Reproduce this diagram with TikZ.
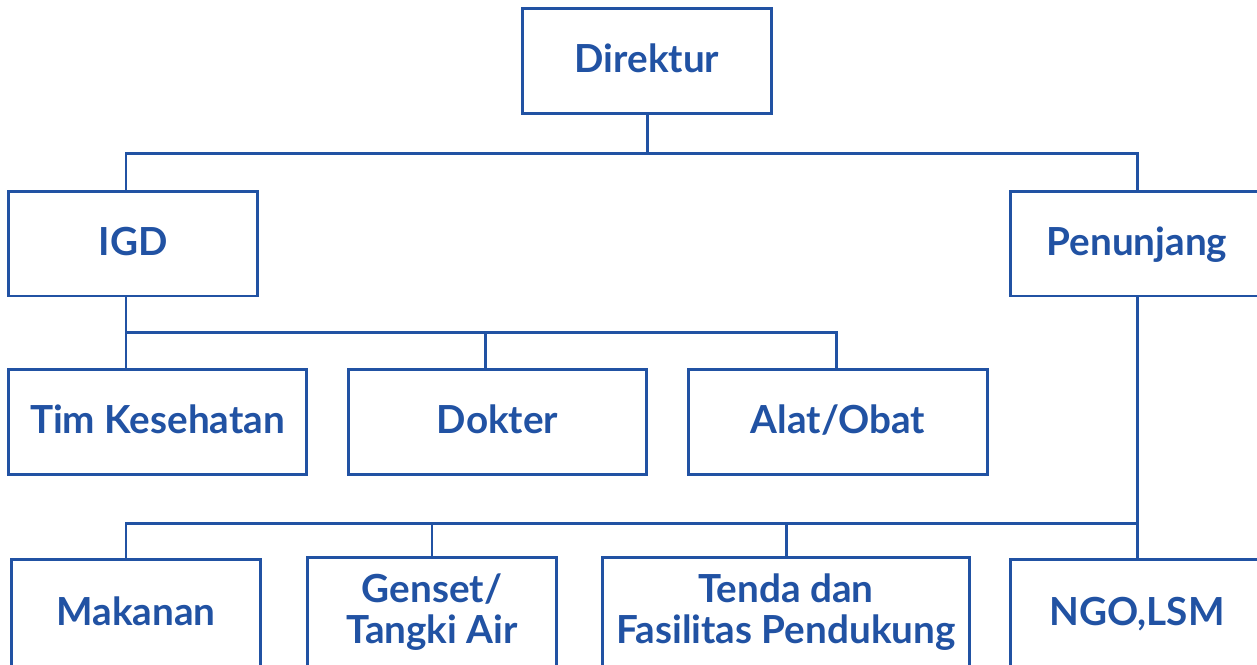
\documentclass[tikz,border=0pt]{standalone}
\usepackage{fontspec}
\setmainfont{Lato}
\definecolor{orgblue}{RGB}{33,82,163}
\begin{document}
\begin{tikzpicture}[x=0.02cm,y=-0.02cm,
  box/.style={draw=orgblue,line width=1.7pt,minimum width=5cm,minimum height=2.1cm,
    text=orgblue,font=\fontsize{22}{23}\selectfont\bfseries,text height=13.6pt,text depth=0pt,inner sep=0pt},
  twobox/.style={box,text height=,text depth=,align=center},
  link/.style={orgblue,line width=1.7pt}]
\clip (0,0) rectangle (1257,664);
% top
\node[box] (dir) at (647,61) {Direktur};
\node[box] (igd) at (133,243.5) {IGD};
\node[box,minimum width=5.08cm] (penunjang) at (1137,243.5) {Penunjang};
% IGD row
\node[box,minimum width=5.98cm] (tim) at (157.5,422) {Tim Kesehatan};
\node[box,minimum width=5.98cm] (dokter) at (497.5,422) {Dokter};
\node[box,minimum width=6cm] (alat) at (838,422) {Alat/Obat};
% Penunjang row
\node[box,minimum height=2.2cm] (makanan) at (136,614) {Makanan};
\node[twobox,minimum height=2.2cm] (genset) at (432,612) {Genset/\\Tangki Air};
\node[twobox,minimum width=7.36cm,minimum height=2.2cm] (tenda) at (786,612) {Tenda dan\\Fasilitas Pendukung};
\node[box,minimum width=5.08cm,minimum height=2.2cm] (ngo) at (1137,614) {NGO,LSM};
% connectors
\coordinate (d1) at (647,153);
\coordinate (d1l) at (126,153);
\coordinate (d1r) at (1137,153);
\draw[link] (dir.south) -- (d1);
\draw[link] (igd.north -| d1l) -- (d1l) -- (d1r) -- (penunjang.north);
\coordinate (i1) at (126,332);
\coordinate (i1m) at (485,332);
\coordinate (i1r) at (836,332);
\draw[link] (igd.south -| i1) -- (i1);
\draw[link] (tim.north -| i1) -- (i1) -- (i1r) -- (alat.north -| i1r);
\draw[link] (i1m) -- (dokter.north -| i1m);
\coordinate (p1) at (1137,523);
\coordinate (p1l) at (126,523);
\coordinate (p1a) at (432,523);
\coordinate (p1b) at (786,523);
\draw[link] (penunjang.south) -- (ngo.north);
\draw[link] (makanan.north -| p1l) -- (p1l) -- (p1);
\draw[link] (p1a) -- (genset.north);
\draw[link] (p1b) -- (tenda.north);
\end{tikzpicture}
\end{document}
